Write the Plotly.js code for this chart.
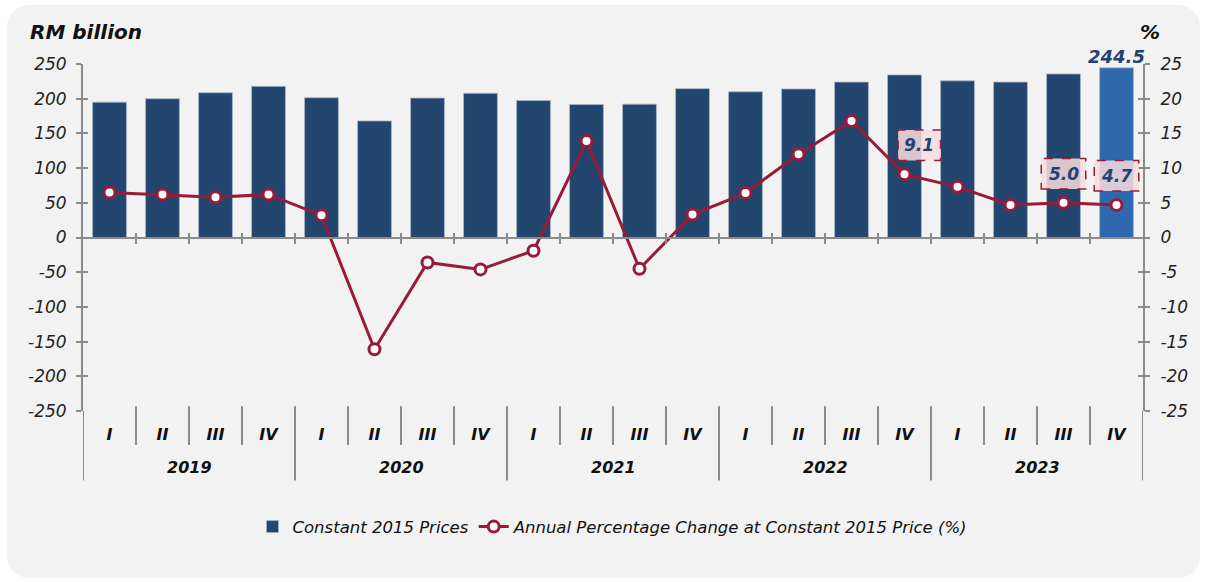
<!DOCTYPE html>
<html>
<head>
<meta charset="utf-8">
<script src="https://cdn.plot.ly/plotly-3.0.1.min.js"></script>
<style>
  html, body { margin: 0; padding: 0; background: #ffffff; }
  #panel {
    position: absolute; left: 7px; top: 5px; width: 1193px; height: 573px;
    background: #f2f2f2; border-radius: 22px;
  }
  #chart { position: absolute; left: 0; top: 0; width: 1209px; height: 582px; }
</style>
</head>
<body>
<div id="panel"></div>
<div id="chart"></div>
<script>
// Quarterly series, 2019 Q1 .. 2023 Q4
const years = ['2019', '2020', '2021', '2022', '2023'];
const quarters = ['I', 'II', 'III', 'IV'];
const constPrices = [195, 200, 208.6, 217.8, 201.4, 168, 201, 207.8, 197.5, 191.7,
                     192.1, 214.5, 210, 214, 224, 234.3, 225.7, 224, 235.7, 244.5];
const pctChange = [6.5, 6.2, 5.8, 6.2, 3.2, -16.1, -3.6, -4.6, -1.9, 13.9,
                   -4.5, 3.3, 6.4, 12.0, 16.8, 9.1, 7.3, 4.7, 5.0, 4.7];
const calloutIdx = [15, 18, 19];
const leftTicks = [-250, -200, -150, -100, -50, 0, 50, 100, 150, 200, 250];
const rightTicks = [-25, -20, -15, -10, -5, 0, 5, 10, 15, 20, 25];

const navy = '#23466f';
const lightBlue = '#3068ae';
const wine = '#9a1b37';
const axisGrey = '#8a8a8a';
const labelBlue = '#1f4373';
const FONT = 'DejaVu Sans, Liberation Sans, sans-serif';

const n = constPrices.length;
const idx = constPrices.map((_, i) => i);
const tickText = idx.map(i => quarters[i % 4]);
const barColors = idx.map(i => (i === n - 1 ? lightBlue : navy));

const traces = [
  {
    type: 'bar', x: idx, y: constPrices, name: 'Constant 2015 Prices',
    marker: { color: barColors, line: { color: '#a9b8cb', width: 0.8 } },
    xaxis: 'x', yaxis: 'y'
  },
  {
    type: 'scatter', mode: 'lines+markers', x: idx, y: pctChange,
    name: 'Annual Percentage Change at Constant 2015 Price (%)',
    line: { color: wine, width: 3 },
    marker: { size: 11, color: '#ffffff', line: { color: wine, width: 3 } },
    xaxis: 'x', yaxis: 'y2'
  },
  // empty traces so the overlay axes (cross ticks) get drawn
  { type: 'scatter', x: [], y: [], xaxis: 'x2', yaxis: 'y', showlegend: false, hoverinfo: 'skip' },
  { type: 'scatter', x: [], y: [], xaxis: 'x3', yaxis: 'y', showlegend: false, hoverinfo: 'skip' },
  { type: 'scatter', x: [], y: [], xaxis: 'x', yaxis: 'y3', showlegend: false, hoverinfo: 'skip' },
  { type: 'scatter', x: [], y: [], xaxis: 'x', yaxis: 'y4', showlegend: false, hoverinfo: 'skip' }
];

// separators below the category axis
const shapes = [];
for (let k = 0; k <= n; k++) {
  const xv = k - 0.5;
  const isYear = k % 4 === 0;
  shapes.push({
    type: 'line', xref: 'x', yref: 'paper', x0: xv, x1: xv,
    y0: (k === 0 || k === n) ? 0 : 0.014, y1: isYear ? -0.2 : -0.098,
    line: { color: axisGrey, width: 2 }, layer: 'below'
  });
}

const annotations = [];
// year labels
years.forEach((yr, j) => {
  annotations.push({
    x: j * 4 + 1.5, y: -0.162, xref: 'x', yref: 'paper', yanchor: 'middle',
    text: yr, showarrow: false,
    font: { family: FONT, size: 16, color: '#111', weight: 'bold', style: 'italic' }
  });
});
// callouts with dashed boxes
calloutIdx.forEach((i, j) => {
  const v = pctChange[i];
  const dx = j === 0 ? 0.28 : 0;
  const half = j === 0 ? 0.4 : 0.42;
  shapes.push({
    type: 'rect', xref: 'x', yref: 'y2',
    x0: i + dx - half, x1: i + dx + half, y0: v + 2.0, y1: v + 6.4,
    fillcolor: 'rgba(249,221,223,0.85)', line: { color: wine, width: 1.5, dash: 'dash' },
    layer: 'above'
  });
  annotations.push({
    x: i + dx, y: v + 4.2, xref: 'x', yref: 'y2', text: v.toFixed(1), showarrow: false,
    font: { family: FONT, size: 17, color: labelBlue, weight: 'bold', style: 'italic' }
  });
});
// last bar value
annotations.push({
  x: n - 1, y: constPrices[n - 1], xref: 'x', yref: 'y', text: constPrices[n - 1].toFixed(1),
  showarrow: false, yanchor: 'bottom', yshift: -1,
  font: { family: FONT, size: 18, color: labelBlue, weight: 'bold', style: 'italic' }
});
// axis unit labels
annotations.push({
  x: -0.052, y: 1.092, xref: 'paper', yref: 'paper', xanchor: 'left', yanchor: 'middle',
  text: 'RM billion', showarrow: false,
  font: { family: FONT, size: 20, color: '#111', weight: 'bold', style: 'italic' }
});
annotations.push({
  x: 1.018, y: 1.092, xref: 'paper', yref: 'paper', yanchor: 'middle', text: '%',
  showarrow: false, font: { family: FONT, size: 20, color: '#111', weight: 'bold', style: 'italic' }
});

const tickFont = { family: FONT, size: 17, color: '#222', style: 'italic' };
const xRange = [-0.5, n - 0.5];
const boundaries = idx.slice(0, n - 1).map(i => i + 0.5);

const layout = {
  width: 1209, height: 582,
  paper_bgcolor: 'rgba(0,0,0,0)', plot_bgcolor: 'rgba(0,0,0,0)',
  margin: { l: 83, r: 66, t: 64, b: 171 },
  bargap: 0.36,
  showlegend: true,
  legend: {
    orientation: 'h', x: 0.5, xanchor: 'center', y: -0.334, yanchor: 'middle',
    font: { family: FONT, size: 16.5, color: '#111', style: 'italic' },
    bgcolor: 'rgba(0,0,0,0)'
  },
  xaxis: {
    range: xRange, tickvals: idx, ticktext: tickText, showline: false, ticks: '',
    showgrid: false, zeroline: false, ticklabelstandoff: 12,
    tickfont: { family: FONT, size: 16, color: '#111', weight: 'bold', style: 'italic' }
  },
  xaxis2: {
    overlaying: 'x', anchor: 'free', position: 0.5, range: xRange,
    showline: true, linecolor: axisGrey, linewidth: 2,
    tickvals: boundaries, ticks: 'outside', ticklen: 5, tickwidth: 2, tickcolor: axisGrey,
    showticklabels: false, showgrid: false, zeroline: false
  },
  xaxis3: {
    overlaying: 'x', anchor: 'free', position: 0.5, range: xRange, side: 'bottom',
    showline: false, tickvals: boundaries, ticks: 'inside', ticklen: 5, tickwidth: 2,
    tickcolor: axisGrey, showticklabels: false, showgrid: false, zeroline: false
  },
  yaxis: {
    range: [-250, 250], tickvals: leftTicks, ticktext: leftTicks.map(String),
    showgrid: false, zeroline: false,
    showline: true, linecolor: axisGrey, linewidth: 2,
    ticks: 'outside', ticklen: 5, tickwidth: 2, tickcolor: axisGrey,
    ticklabelstandoff: 6, tickfont: tickFont
  },
  yaxis2: {
    range: [-25, 25], tickvals: rightTicks, ticktext: rightTicks.map(String),
    overlaying: 'y', side: 'right', showgrid: false, zeroline: false,
    showline: true, linecolor: axisGrey, linewidth: 2,
    ticks: 'outside', ticklen: 5, tickwidth: 2, tickcolor: axisGrey,
    ticklabelstandoff: 7, tickfont: tickFont
  },
  yaxis3: {
    range: [-250, 250], tickvals: leftTicks, overlaying: 'y', side: 'left', showgrid: false,
    zeroline: false, showline: false, ticks: 'inside', ticklen: 5, tickwidth: 2,
    tickcolor: axisGrey, showticklabels: false
  },
  yaxis4: {
    range: [-25, 25], tickvals: rightTicks, overlaying: 'y', side: 'right', showgrid: false,
    zeroline: false, showline: false, ticks: 'inside', ticklen: 5, tickwidth: 2,
    tickcolor: axisGrey, showticklabels: false
  },
  shapes: shapes,
  annotations: annotations
};

Plotly.newPlot('chart', traces, layout, { displayModeBar: false, responsive: false });
</script>
</body>
</html>
